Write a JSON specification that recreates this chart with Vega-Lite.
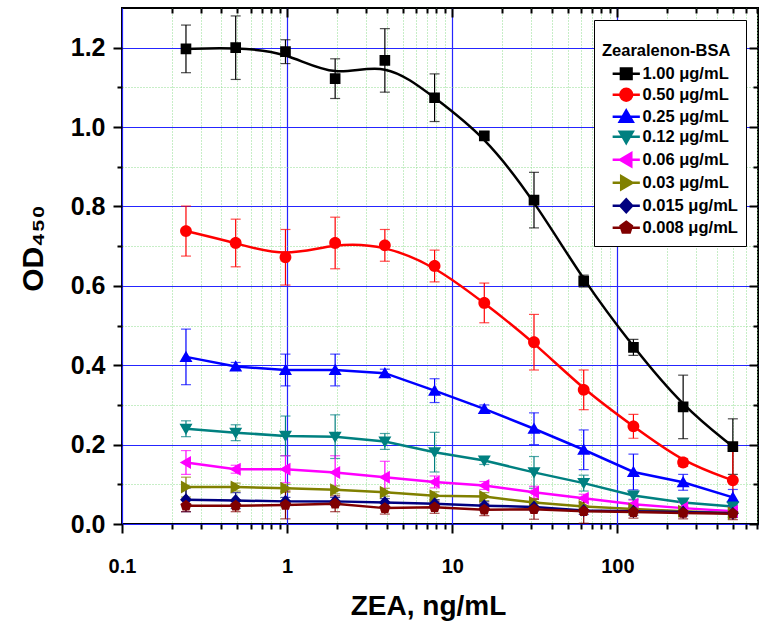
{
  "$schema": "https://vega.github.io/schema/vega-lite/v6.json",
  "width": 636,
  "height": 516,
  "autosize": {"type": "none"},
  "padding": {"left": 122, "top": 8, "right": 4, "bottom": 107},
  "background": "white",
  "config": {
    "view": {"stroke": "black", "strokeWidth": 2},
    "font": "Liberation Sans",
    "axis": {"labelFont": "Liberation Sans", "titleFont": "Liberation Sans", "labelColor": "black", "titleColor": "black", "tickColor": "black"},
    "legend": {"orient": "none", "legendX": 472, "legendY": 12,
      "titleFontSize": 16.5, "titleFontWeight": "bold", "titleColor": "black", "titleLineHeight": 15, "titlePadding": 6,
      "labelFontSize": 16.5, "labelFontWeight": "bold", "labelColor": "black",
      "padding": 8, "strokeColor": "black", "fillColor": "white", "cornerRadius": 0,
      "symbolSize": 140, "symbolStrokeWidth": 2.5, "symbolOpacity": 1, "symbolOffset": 16, "labelOffset": 8, "rowPadding": -1}
  },
  "data": {"values": [
    {"x":0.244,"y":1.197,"err":0.06,"s":"1.00 μg/mL"},
    {"x":0.488,"y":1.200,"err":0.08,"s":"1.00 μg/mL"},
    {"x":0.977,"y":1.190,"err":0.03,"s":"1.00 μg/mL"},
    {"x":1.953,"y":1.122,"err":0.05,"s":"1.00 μg/mL"},
    {"x":3.906,"y":1.168,"err":0.08,"s":"1.00 μg/mL"},
    {"x":7.8125,"y":1.074,"err":0.06,"s":"1.00 μg/mL"},
    {"x":15.625,"y":0.978,"err":0.01,"s":"1.00 μg/mL"},
    {"x":31.25,"y":0.816,"err":0.07,"s":"1.00 μg/mL"},
    {"x":62.5,"y":0.612,"err":0.015,"s":"1.00 μg/mL"},
    {"x":125,"y":0.445,"err":0.02,"s":"1.00 μg/mL"},
    {"x":250,"y":0.295,"err":0.08,"s":"1.00 μg/mL"},
    {"x":500,"y":0.195,"err":0.07,"s":"1.00 μg/mL"},
    {"x":0.244,"y":0.738,"err":0.063,"s":"0.50 μg/mL"},
    {"x":0.488,"y":0.708,"err":0.06,"s":"0.50 μg/mL"},
    {"x":0.977,"y":0.672,"err":0.07,"s":"0.50 μg/mL"},
    {"x":1.953,"y":0.708,"err":0.065,"s":"0.50 μg/mL"},
    {"x":3.906,"y":0.702,"err":0.04,"s":"0.50 μg/mL"},
    {"x":7.8125,"y":0.650,"err":0.04,"s":"0.50 μg/mL"},
    {"x":15.625,"y":0.557,"err":0.05,"s":"0.50 μg/mL"},
    {"x":31.25,"y":0.458,"err":0.07,"s":"0.50 μg/mL"},
    {"x":62.5,"y":0.338,"err":0.05,"s":"0.50 μg/mL"},
    {"x":125,"y":0.246,"err":0.03,"s":"0.50 μg/mL"},
    {"x":250,"y":0.155,"err":0.01,"s":"0.50 μg/mL"},
    {"x":500,"y":0.110,"err":0.08,"s":"0.50 μg/mL"},
    {"x":0.244,"y":0.421,"err":0.07,"s":"0.25 μg/mL"},
    {"x":0.488,"y":0.397,"err":0.01,"s":"0.25 μg/mL"},
    {"x":0.977,"y":0.388,"err":0.04,"s":"0.25 μg/mL"},
    {"x":1.953,"y":0.388,"err":0.04,"s":"0.25 μg/mL"},
    {"x":3.906,"y":0.380,"err":0.01,"s":"0.25 μg/mL"},
    {"x":7.8125,"y":0.336,"err":0.03,"s":"0.25 μg/mL"},
    {"x":15.625,"y":0.290,"err":0.01,"s":"0.25 μg/mL"},
    {"x":31.25,"y":0.240,"err":0.04,"s":"0.25 μg/mL"},
    {"x":62.5,"y":0.187,"err":0.05,"s":"0.25 μg/mL"},
    {"x":125,"y":0.131,"err":0.045,"s":"0.25 μg/mL"},
    {"x":250,"y":0.105,"err":0.02,"s":"0.25 μg/mL"},
    {"x":500,"y":0.067,"err":0.02,"s":"0.25 μg/mL"},
    {"x":0.244,"y":0.240,"err":0.02,"s":"0.12 μg/mL"},
    {"x":0.488,"y":0.230,"err":0.02,"s":"0.12 μg/mL"},
    {"x":0.977,"y":0.222,"err":0.05,"s":"0.12 μg/mL"},
    {"x":1.953,"y":0.220,"err":0.055,"s":"0.12 μg/mL"},
    {"x":3.906,"y":0.208,"err":0.02,"s":"0.12 μg/mL"},
    {"x":7.8125,"y":0.181,"err":0.05,"s":"0.12 μg/mL"},
    {"x":15.625,"y":0.160,"err":0.01,"s":"0.12 μg/mL"},
    {"x":31.25,"y":0.130,"err":0.04,"s":"0.12 μg/mL"},
    {"x":62.5,"y":0.103,"err":0.02,"s":"0.12 μg/mL"},
    {"x":125,"y":0.072,"err":0.01,"s":"0.12 μg/mL"},
    {"x":250,"y":0.054,"err":0.01,"s":"0.12 μg/mL"},
    {"x":500,"y":0.044,"err":0.01,"s":"0.12 μg/mL"},
    {"x":0.244,"y":0.155,"err":0.03,"s":"0.06 μg/mL"},
    {"x":0.488,"y":0.138,"err":0.01,"s":"0.06 μg/mL"},
    {"x":0.977,"y":0.138,"err":0.034,"s":"0.06 μg/mL"},
    {"x":1.953,"y":0.130,"err":0.042,"s":"0.06 μg/mL"},
    {"x":3.906,"y":0.118,"err":0.04,"s":"0.06 μg/mL"},
    {"x":7.8125,"y":0.106,"err":0.015,"s":"0.06 μg/mL"},
    {"x":15.625,"y":0.097,"err":0.01,"s":"0.06 μg/mL"},
    {"x":31.25,"y":0.080,"err":0.015,"s":"0.06 μg/mL"},
    {"x":62.5,"y":0.065,"err":0.01,"s":"0.06 μg/mL"},
    {"x":125,"y":0.050,"err":0.01,"s":"0.06 μg/mL"},
    {"x":250,"y":0.040,"err":0.015,"s":"0.06 μg/mL"},
    {"x":500,"y":0.032,"err":0.01,"s":"0.06 μg/mL"},
    {"x":0.244,"y":0.093,"err":0.025,"s":"0.03 μg/mL"},
    {"x":0.488,"y":0.093,"err":0.01,"s":"0.03 μg/mL"},
    {"x":0.977,"y":0.090,"err":0.01,"s":"0.03 μg/mL"},
    {"x":1.953,"y":0.086,"err":0.01,"s":"0.03 μg/mL"},
    {"x":3.906,"y":0.080,"err":0.01,"s":"0.03 μg/mL"},
    {"x":7.8125,"y":0.071,"err":0.01,"s":"0.03 μg/mL"},
    {"x":15.625,"y":0.069,"err":0.01,"s":"0.03 μg/mL"},
    {"x":31.25,"y":0.054,"err":0.01,"s":"0.03 μg/mL"},
    {"x":62.5,"y":0.044,"err":0.01,"s":"0.03 μg/mL"},
    {"x":125,"y":0.038,"err":0.01,"s":"0.03 μg/mL"},
    {"x":250,"y":0.032,"err":0.01,"s":"0.03 μg/mL"},
    {"x":500,"y":0.027,"err":0.01,"s":"0.03 μg/mL"},
    {"x":0.244,"y":0.061,"err":0.03,"s":"0.015 μg/mL"},
    {"x":0.488,"y":0.059,"err":0.02,"s":"0.015 μg/mL"},
    {"x":0.977,"y":0.057,"err":0.01,"s":"0.015 μg/mL"},
    {"x":1.953,"y":0.057,"err":0.01,"s":"0.015 μg/mL"},
    {"x":3.906,"y":0.054,"err":0.01,"s":"0.015 μg/mL"},
    {"x":7.8125,"y":0.051,"err":0.01,"s":"0.015 μg/mL"},
    {"x":15.625,"y":0.046,"err":0.01,"s":"0.015 μg/mL"},
    {"x":31.25,"y":0.043,"err":0.01,"s":"0.015 μg/mL"},
    {"x":62.5,"y":0.034,"err":0.01,"s":"0.015 μg/mL"},
    {"x":125,"y":0.032,"err":0.01,"s":"0.015 μg/mL"},
    {"x":250,"y":0.030,"err":0.01,"s":"0.015 μg/mL"},
    {"x":500,"y":0.027,"err":0.01,"s":"0.015 μg/mL"},
    {"x":0.244,"y":0.046,"err":0.015,"s":"0.008 μg/mL"},
    {"x":0.488,"y":0.046,"err":0.015,"s":"0.008 μg/mL"},
    {"x":0.977,"y":0.048,"err":0.035,"s":"0.008 μg/mL"},
    {"x":1.953,"y":0.051,"err":0.02,"s":"0.008 μg/mL"},
    {"x":3.906,"y":0.040,"err":0.015,"s":"0.008 μg/mL"},
    {"x":7.8125,"y":0.042,"err":0.015,"s":"0.008 μg/mL"},
    {"x":15.625,"y":0.036,"err":0.015,"s":"0.008 μg/mL"},
    {"x":31.25,"y":0.037,"err":0.025,"s":"0.008 μg/mL"},
    {"x":62.5,"y":0.032,"err":0.03,"s":"0.008 μg/mL"},
    {"x":125,"y":0.030,"err":0.015,"s":"0.008 μg/mL"},
    {"x":250,"y":0.028,"err":0.015,"s":"0.008 μg/mL"},
    {"x":500,"y":0.026,"err":0.015,"s":"0.008 μg/mL"}
  ]},
  "resolve": {"axis": {"x": "independent", "y": "independent"}},
  "layer": [
    {
      "transform": [{"filter": {"field": "s", "oneOf": ["1.00 μg/mL", "0.50 μg/mL"]}}],
      "mark": {"type": "line", "interpolate": "basis", "strokeWidth": 2.5},
      "encoding": {
        "x": {"field": "x", "type": "quantitative",
          "scale": {"type": "log", "domain": [0.1, 710], "nice": false},
          "axis": {"orient": "bottom", "values": [0.1, 1, 10, 100], "format": "~g", "domain": false,
            "tickSize": 9, "tickWidth": 2, "labelFontSize": 20, "labelFontWeight": "bold", "labelPadding": 23,
            "labelFlush": false, "labelOverlap": false,
            "grid": true, "gridColor": "#2525ff", "gridWidth": 1.2, "gridOpacity": 1,
            "title": "ZEA, ng/mL", "titleFontSize": 28, "titleFontWeight": "bold", "titlePadding": 16, "titleX": 306}},
        "y": {"field": "y", "type": "quantitative",
          "scale": {"domain": [0, 1.3], "nice": false, "zero": true},
          "axis": {"orient": "left", "values": [0, 0.2, 0.4, 0.6, 0.8, 1.0, 1.2], "format": ".1f", "domain": false,
            "tickSize": 9, "tickWidth": 2, "labelFontSize": 25, "labelFontWeight": "bold", "labelPadding": 8,
            "labelFlush": false, "labelOverlap": false,
            "grid": true, "gridColor": "#2525ff", "gridWidth": 1.2, "gridOpacity": 1,
            "title": "OD₄₅₀", "titleFontSize": 30, "titleFontWeight": "bold", "titleX": -74, "titleY": 240}},
        "color": {"field": "s", "type": "nominal",
          "scale": {"domain": ["1.00 μg/mL", "0.50 μg/mL", "0.25 μg/mL", "0.12 μg/mL", "0.06 μg/mL", "0.03 μg/mL", "0.015 μg/mL", "0.008 μg/mL"],
            "range": ["#000000", "#ff0000", "#0000ff", "#008080", "#ff00ff", "#808000", "#000080", "#800000"]},
          "legend": {"title": ["", "Zearalenon-BSA"]}}
      }
    },
    {
      "transform": [{"filter": {"not": {"field": "s", "oneOf": ["1.00 μg/mL", "0.50 μg/mL"]}}}],
      "mark": {"type": "line", "interpolate": "linear", "strokeWidth": 2.5},
      "encoding": {
        "x": {"field": "x", "type": "quantitative",
          "axis": {"orient": "bottom", "values": [0.2,0.3,0.4,0.5,0.6,0.7,0.8,0.9,2,3,4,5,6,7,8,9,20,30,40,50,60,70,80,90,200,300,400,500,600,700],
            "domain": false, "labels": false, "tickSize": 5, "tickWidth": 2,
            "grid": true, "gridColor": "#8fdc8f", "gridDash": [1, 2], "gridWidth": 1, "gridOpacity": 1, "title": null}},
        "y": {"field": "y", "type": "quantitative",
          "axis": {"orient": "left", "values": [0.1, 0.3, 0.5, 0.7, 0.9, 1.1],
            "domain": false, "labels": false, "tickSize": 5, "tickWidth": 2,
            "grid": true, "gridColor": "#8fdc8f", "gridDash": [1, 2], "gridWidth": 1, "gridOpacity": 1, "title": null}},
        "color": {"field": "s", "type": "nominal", "legend": {"title": ["", "Zearalenon-BSA"]}}
      }
    },
    {
      "mark": {"type": "errorbar", "ticks": {"size": 10}, "thickness": 1.2},
      "encoding": {
        "x": {"field": "x", "type": "quantitative", "axis": null},
        "y": {"field": "y", "type": "quantitative", "axis": null},
        "yError": {"field": "err"},
        "color": {"field": "s", "type": "nominal", "legend": {"title": ["", "Zearalenon-BSA"]}}
      }
    },
    {
      "mark": {"type": "point", "filled": true, "size": 140, "opacity": 1, "strokeWidth": 0},
      "encoding": {
        "x": {"field": "x", "type": "quantitative",
          "axis": {"orient": "top", "values": [1, 10, 100], "domain": false, "labels": false, "tickSize": -9, "tickWidth": 2, "grid": false, "title": null}},
        "y": {"field": "y", "type": "quantitative",
          "axis": {"orient": "right", "values": [0, 0.2, 0.4, 0.6, 0.8, 1.0, 1.2], "domain": false, "labels": false, "tickSize": -9, "tickWidth": 2, "grid": false, "title": null}},
        "color": {"field": "s", "type": "nominal",
          "legend": {"title": ["", "Zearalenon-BSA"],
            "encode": {"symbols": {"update": {"stroke": {"scale": "color", "field": "value"}, "fill": {"scale": "color", "field": "value"}, "strokeWidth": {"value": 2.5}, "opacity": {"value": 1}, "fillOpacity": {"value": 1}, "strokeOpacity": {"value": 1}}}}}},
        "shape": {"field": "s", "type": "nominal",
          "scale": {"domain": ["1.00 μg/mL", "0.50 μg/mL", "0.25 μg/mL", "0.12 μg/mL", "0.06 μg/mL", "0.03 μg/mL", "0.015 μg/mL", "0.008 μg/mL"],
            "range": [
              "M-2.3,0L2.3,0M-0.9,-0.9L0.9,-0.9L0.9,0.9L-0.9,0.9Z",
              "M-2.3,0L2.3,0M1,0A1,1,0,1,1,-1,0A1,1,0,1,1,1,0Z",
              "M-2.3,0L2.3,0M0,-1.05L1.1,0.85L-1.1,0.85Z",
              "M-2.3,0L2.3,0M0,1.05L1.1,-0.85L-1.1,-0.85Z",
              "M-2.3,0L2.3,0M-1.05,0L0.85,-1.1L0.85,1.1Z",
              "M-2.3,0L2.3,0M1.05,0L-0.85,-1.1L-0.85,1.1Z",
              "M-2.3,0L2.3,0M0,-1.1L1,0L0,1.1L-1,0Z",
              "M-2.3,0L2.3,0M0,-1L0.95,-0.31L0.59,0.81L-0.59,0.81L-0.95,-0.31Z"
            ]},
          "legend": {"title": ["", "Zearalenon-BSA"]}}
      }
    },
    {
      "mark": {"type": "point", "opacity": 0},
      "encoding": {
        "x": {"field": "x", "type": "quantitative",
          "axis": {"orient": "top", "values": [0.2,0.3,0.4,0.5,0.6,0.7,0.8,0.9,2,3,4,5,6,7,8,9,20,30,40,50,60,70,80,90,200,300,400,500,600,700],
            "domain": false, "labels": false, "tickSize": -5, "tickWidth": 2, "grid": false, "title": null}},
        "y": {"field": "y", "type": "quantitative",
          "axis": {"orient": "right", "values": [0.1, 0.3, 0.5, 0.7, 0.9, 1.1],
            "domain": false, "labels": false, "tickSize": -5, "tickWidth": 2, "grid": false, "title": null}}
      }
    }
  ]
}
